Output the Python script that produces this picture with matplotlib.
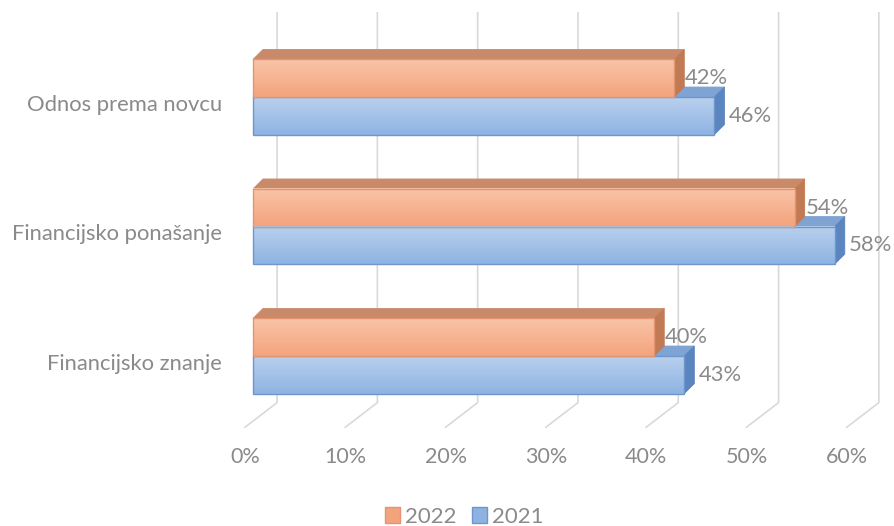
import matplotlib.pyplot as plt
import numpy as np
from matplotlib.patches import Polygon, Rectangle, Patch
from matplotlib.colors import LinearSegmentedColormap

plt.rcParams['font.family'] = ['Lato', 'DejaVu Sans']

categories = ['Financijsko znanje', 'Financijsko ponašanje', 'Odnos prema novcu']
vals_2022 = [40, 54, 42]
vals_2021 = [43, 58, 46]
ticks = [0, 10, 20, 30, 40, 50, 60]
series = ['2022', '2021']

# colours: front top, front bottom, top face, side face, edge
orange = ['#f9c4a8', '#f4a47d', '#c98a6a', '#c27a55', '#e39470']
blue = ['#b9d0ed', '#8eb3e2', '#7fa3d3', '#5b85bf', '#6f96cc']

txt_col = '#8a8a8a'
grid_col = '#d9d9d9'
fs = 15.8

bar_h = 0.29
ddx, ddy = 1.0, 0.077          # bar depth
back_dx = 2.4                  # back wall offset
floor_dx = -0.8                # front edge of the floor
y_top, y_bot, y_floor = 2.65, -0.36, -0.55

fig = plt.figure(figsize=(8.94, 5.26), dpi=100)
ax = fig.add_axes([253 / 894, 105.25 / 526, 601.8 / 894, 388.5 / 526])
ax.set_xlim(0, 60)
ax.set_ylim(-0.5, 2.5)
ax.axis('off')

# back wall gridlines with floor diagonals
for t in ticks:
    ax.plot([t + back_dx, t + back_dx, t + floor_dx], [y_top, y_bot, y_floor],
            color=grid_col, lw=1.2, clip_on=False, zorder=1)
    ax.text(t + floor_dx, -0.78, f'{t}%', ha='center', va='center',
            color=txt_col, fontsize=15.5, clip_on=False)


def draw_bar(v, y0, y1, cols, z):
    top = Polygon([(0, y1), (v, y1), (v + ddx, y1 + ddy), (ddx, y1 + ddy)],
                  closed=True, fc=cols[2], ec=cols[2], lw=0.6, zorder=z, clip_on=False)
    side = Polygon([(v, y0), (v + ddx, y0 + ddy), (v + ddx, y1 + ddy), (v, y1)],
                   closed=True, fc=cols[3], ec=cols[3], lw=0.6, zorder=z, clip_on=False)
    ax.add_patch(top)
    ax.add_patch(side)
    cmap = LinearSegmentedColormap.from_list('g', [cols[1], cols[0]])
    grad = np.linspace(0, 1, 64).reshape(-1, 1)
    ax.imshow(grad, extent=[0, v, y0, y1], origin='lower', cmap=cmap,
              aspect='auto', zorder=z + 0.1, clip_on=False, interpolation='bilinear')
    ax.add_patch(Rectangle((0, y0), v, y1 - y0, fc='none', ec=cols[4], lw=1,
                           zorder=z + 0.2, clip_on=False))


for i, cat in enumerate(categories):
    c = i
    draw_bar(vals_2021[i], c - bar_h, c, blue, 3 + i)
    draw_bar(vals_2022[i], c, c + bar_h, orange, 3.5 + i)
    ax.text(vals_2022[i] + ddx + 0.1, c + bar_h / 2, f'{vals_2022[i]}%', ha='left',
            va='center', color=txt_col, fontsize=fs, zorder=10)
    ax.text(vals_2021[i] + ddx + 0.4, c - bar_h / 2, f'{vals_2021[i]}%', ha='left',
            va='center', color=txt_col, fontsize=fs, zorder=10)
    ax.text(-3.1, c - 0.06, cat, ha='right', va='center', color=txt_col,
            fontsize=fs, clip_on=False)

ax.set_xlim(0, 60)
ax.set_ylim(-0.5, 2.5)

handles = [Patch(fc=orange[1], ec=orange[4]), Patch(fc=blue[1], ec=blue[4])]
fig.legend(handles, series, loc='center', bbox_to_anchor=(464 / 894, 1 - 517 / 526),
           ncol=2, frameon=False, fontsize=16, handlelength=0.7, handleheight=0.7,
           handletextpad=0.2, columnspacing=0.7, labelcolor=txt_col,
           borderpad=0.1)

fig.savefig('out.png', dpi=100, facecolor='white')
